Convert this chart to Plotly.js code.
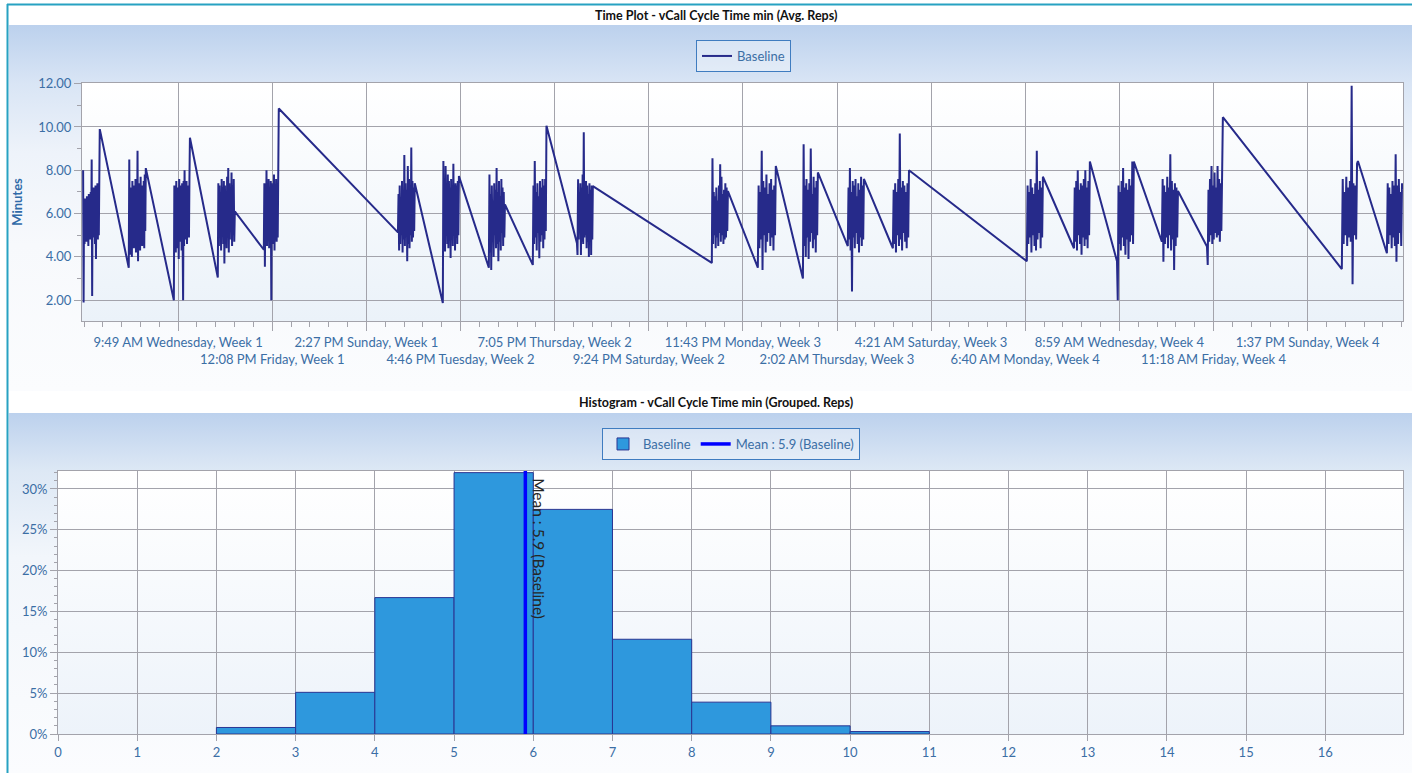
<!DOCTYPE html>
<html>
<head>
<meta charset="utf-8">
<script src="https://cdn.plot.ly/plotly-3.0.1.min.js"></script>
<style>
html,body{margin:0;padding:0;background:#ffffff;overflow:hidden;}
#chart{width:1412px;height:773px;}
</style>
</head>
<body>
<div id="chart"></div>
<script>
// ---------------- Time plot data (hours relative to 9:49 AM Wednesday, Week 1) ----------------
const tickLabels = ['9:49 AM Wednesday, Week 1','12:08 PM Friday, Week 1','2:27 PM Sunday, Week 1',
  '4:46 PM Tuesday, Week 2','7:05 PM Thursday, Week 2','9:24 PM Saturday, Week 2','11:43 PM Monday, Week 3',
  '2:02 AM Thursday, Week 3','4:21 AM Saturday, Week 3','6:40 AM Monday, Week 4','8:59 AM Wednesday, Week 4',
  '11:18 AM Friday, Week 4','1:37 PM Sunday, Week 4'];
const tickHours = [0, 50.32, 100.63, 150.95, 201.27, 251.58, 301.9, 352.22, 402.53, 452.85, 503.17, 553.48, 603.8];

// start / end hour of each working-day burst of readings
const dayStart = [-50.8, -26.4, -2.3, 21.2, 45.8, 117.5, 141.5, 166.1, 189.6, 213.2, 285.3,
  309.9, 334.0, 358.0, 382.1, 453.7, 478.9, 501.9, 525.9, 550.0, 622.1, 646.2];
const dayEnd = [-41.9, -17.3, 6.3, 30.3, 53.8, 126.5, 150.1, 174.7, 196.9, 221.7, 293.9,
  319.5, 342.0, 366.6, 390.7, 462.3, 487.4, 510.9, 534.5, 558.5, 630.7, 654.7];

// cycle time readings (minutes) for each day
const wk1Mon = [8.0,1.9,6.6,4.6,6.7,5.0,6.5,4.7,6.8,5.2,6.4,4.5,6.9,5.1,6.6,4.8,7.0,5.3,8.5,2.2,6.9,4.9,7.2,5.0,6.8,4.6,7.3,3.9,7.1,5.2,7.4,4.8,7.3,5.0,7.5,9.9];
const wk1Tue = [3.5,8.5,4.1,7.2,4.8,6.9,4.0,7.5,5.0,6.7,4.4,7.3,4.9,7.6,4.2,7.0,5.1,8.9,3.8,7.4,4.6,7.1,4.3,7.7,5.0,6.9,4.5,7.3,4.8,7.5,4.4,7.8,5.2,8.1];
const wk1Wed = [2.0,7.3,4.6,7.0,4.2,7.5,5.0,7.2,4.4,6.8,3.9,7.6,5.1,7.3,4.7,7.1,4.3,7.4,5.0,2.0,7.5,4.5,8.0,4.8,7.2,5.2,7.5,4.6,6.9,5.0,7.3,4.9,7.6,9.5];
const wk1Thu = [3.05,7.4,4.5,7.3,4.9,6.9,4.3,7.6,5.0,7.2,4.6,7.5,3.7,7.3,4.8,7.0,4.4,7.7,5.1,8.1,4.2,7.4,4.8,7.0,5.2,7.9,4.5,7.3,5.0,7.6,4.7,6.1];
const wk1Fri = [4.33,7.4,3.55,7.0,4.9,8.0,4.5,7.3,5.1,7.6,4.4,7.2,4.8,7.5,2.0,7.4,5.0,7.1,4.6,7.8,4.3,7.3,5.2,7.6,4.7,7.0,4.9,8.0,10.85];
const wk2Mon = [5.13,6.9,4.3,7.3,4.6,6.6,5.0,7.5,4.2,7.0,4.8,8.7,4.5,7.4,5.1,7.1,3.8,8.2,4.6,7.6,4.4,7.3,5.0,9.05,4.7,7.5,4.9,7.2,5.2,7.4];
const wk2Tue = [1.87,8.43,4.7,7.3,4.25,8.2,5.0,7.0,4.6,7.8,4.4,7.5,5.1,7.2,3.95,7.6,4.8,7.0,4.5,8.3,5.2,7.1,4.3,7.4,4.9,7.3,4.6,7.5,5.0,7.73];
const wk2Wed = [3.5,7.8,4.2,6.9,3.4,7.3,4.9,6.6,4.0,7.4,5.0,7.1,4.4,8.1,4.6,7.0,3.8,7.5,4.7,6.8,4.3,7.6,5.1,7.2,4.5,7.0,4.9,6.42];
const wk2Thu = [3.63,7.3,4.6,8.43,4.9,7.0,4.3,7.4,5.1,6.8,3.94,7.5,4.7,7.2,5.0,7.6,4.4,7.3,4.8,7.6,5.2,10.06];
const wk2Fri = [4.63,4.09,7.58,4.8,7.0,5.2,7.4,4.09,7.2,4.7,7.81,4.6,9.75,4.9,7.2,5.0,7.5,4.4,7.3,4.7,6.9,4.0,7.4,5.1,7.1,4.09,7.3,4.8,7.27];
const wk3Mon = [3.72,8.56,4.6,7.0,5.0,6.8,4.4,7.2,4.9,6.6,4.5,7.3,5.1,8.28,4.7,7.7,5.0,6.9,4.6,7.1,4.8,7.4,4.9,7.2,5.2,7.04];
const wk3Tue = [3.5,7.3,4.4,7.0,4.8,8.9,3.4,7.5,5.0,7.2,4.2,7.8,4.7,6.9,5.1,7.4,4.5,7.6,4.9,7.1,4.3,7.3,5.0,8.2];
const wk3Wed = [3.0,9.2,4.5,7.3,4.0,7.6,4.9,7.1,3.9,7.4,4.7,9.0,5.1,6.9,4.4,7.7,4.8,7.2,4.2,7.5,5.0,7.9];
const wk3Thu = [4.5,7.2,4.8,8.1,4.3,7.0,2.4,7.5,4.9,7.3,4.4,7.6,5.1,6.8,4.6,7.4,4.2,7.1,4.9,7.7,4.5,7.3,4.8,7.6];
const wk3Fri = [4.4,7.1,4.6,7.4,4.2,7.0,5.0,7.6,4.5,9.7,4.8,7.2,4.3,7.5,5.1,7.3,4.7,7.0,4.4,7.4,4.9,8.0];
const wk4Mon = [3.8,7.3,4.6,7.0,4.9,7.6,4.2,7.2,5.0,6.9,4.5,7.4,4.3,8.9,4.8,7.1,5.1,7.5,4.4,7.2,4.9,7.7];
const wk4Tue = [4.4,7.2,4.7,7.5,4.3,8.0,5.0,7.1,4.6,7.4,4.1,7.3,4.9,7.6,4.5,8.0,4.8,7.2,4.4,7.5,5.0,8.4];
const wk4Wed = [3.8,2.0,7.3,4.6,7.0,4.3,7.5,4.9,8.1,4.5,7.2,4.1,7.4,4.8,7.1,3.9,7.6,4.7,7.3,5.0,8.4,4.6,8.4];
const wk4Thu = [4.7,7.6,3.78,7.3,4.6,7.0,4.9,7.7,4.4,7.2,5.0,8.74,4.3,7.5,4.8,7.1,3.4,7.4,4.5,7.2,4.9,7.04];
const wk4Fri = [4.48,3.63,7.1,4.7,7.6,5.0,8.2,4.6,7.3,4.8,7.9,5.1,7.2,4.9,8.2,5.0,7.6,4.7,7.4,5.2,7.8,10.45];
const wk5Mon = [3.44,7.6,4.6,7.0,5.0,7.7,4.5,7.2,4.9,7.5,4.7,11.9,2.74,7.4,5.0,7.3,4.8,8.3,8.43];
const wk5Tue = [4.17,7.4,4.6,7.2,5.0,6.9,4.4,7.5,4.9,7.3,4.5,8.74,3.78,7.3,4.6,7.6,5.1,7.0,4.5,7.4,7.1];

// ---------------- Histogram data ----------------
const binLeft = [2, 3, 4, 5, 6, 7, 8, 9, 10];
const binPercent = [0.8, 5.1, 16.7, 32.0, 27.5, 11.6, 3.9, 1.0, 0.3];
const pctTicks = [0, 5, 10, 15, 20, 25, 30];
const meanValue = 5.9;

// ---------------- build the series ----------------
const days = [wk1Mon,wk1Tue,wk1Wed,wk1Thu,wk1Fri,wk2Mon,wk2Tue,wk2Wed,wk2Thu,wk2Fri,
  wk3Mon,wk3Tue,wk3Wed,wk3Thu,wk3Fri,wk4Mon,wk4Tue,wk4Wed,wk4Thu,wk4Fri,wk5Mon,wk5Tue];
const tx = [], ty = [];
days.forEach((vals, d) => {
  const s = dayStart[d], e = dayEnd[d], n = vals.length;
  vals.forEach((v, i) => { tx.push(s + (e - s) * i / (n - 1)); ty.push(v); });
});

const W = 1412, H = 773;
const px = v => v / W;
const py = v => 1 - v / H;

function grad(stops) {
  const s = stops.map(st => '<stop offset="' + st[0] + '" stop-color="' + st[1] + '"/>').join('');
  const svg = '<svg xmlns="http://www.w3.org/2000/svg" width="100" height="100" viewBox="0 0 100 100" preserveAspectRatio="none">' +
    '<defs><linearGradient id="g" x1="0" y1="0" x2="0" y2="1">' + s + '</linearGradient></defs>' +
    '<rect x="0" y="0" width="100" height="100" fill="url(#g)"/></svg>';
  return 'data:image/svg+xml;charset=utf-8,' + encodeURIComponent(svg);
}

const FONT = 'Lato, "Open Sans", "Noto Sans", sans-serif';
const LBL = '#3b6ea5';
const GRID = '#a3a3ab';

const histYMax = 32.2;

const traces = [
  { type: 'scatter', mode: 'lines', x: tx, y: ty, name: 'Baseline',
    line: { color: '#262a8a', width: 2 }, xaxis: 'x', yaxis: 'y', legend: 'legend' },
  { type: 'bar', x: binLeft, y: binPercent, offset: 0, width: 1, name: 'Baseline',
    marker: { color: '#2e98dd', line: { color: '#2a3592', width: 1 } },
    xaxis: 'x2', yaxis: 'y2', legend: 'legend2' },
  { type: 'scatter', mode: 'lines', x: [meanValue, meanValue], y: [0, histYMax],
    name: 'Mean : ' + meanValue.toFixed(1) + ' (Baseline)',
    line: { color: '#0000ff', width: 3.5 }, xaxis: 'x2', yaxis: 'y2', legend: 'legend2' }
];

const axisCommon = {
  showline: true, linecolor: GRID, linewidth: 1, mirror: true, zeroline: false,
  showgrid: true, gridcolor: GRID, gridwidth: 1,
  ticks: 'outside', tickcolor: GRID, tickfont: { family: FONT, size: 13, color: LBL }
};

const layout = {
  width: W, height: H,
  margin: { l: 0, r: 0, t: 0, b: 0 },
  paper_bgcolor: '#ffffff', plot_bgcolor: 'rgba(0,0,0,0)',
  font: { family: FONT, size: 13, color: LBL },
  showlegend: true,
  xaxis: Object.assign({}, axisCommon, {
    domain: [px(82), px(1403)], range: [-51.4, 654.8], anchor: 'y',
    tickmode: 'array', tickvals: tickHours,
    ticktext: tickLabels.map((t, i) => (i % 2 ? '<br>' + t : t)),
    tickangle: 0, ticklen: 9,
    minor: { tick0: 0, dtick: 10.064, ticks: 'outside', ticklen: 5, tickcolor: GRID, showgrid: false }
  }),
  yaxis: Object.assign({}, axisCommon, {
    domain: [py(321), py(83)], range: [1.04, 12.03], anchor: 'x',
    tick0: 0, dtick: 2, tickformat: '.2f', ticklen: 7,
    minor: { dtick: 1, ticks: 'outside', ticklen: 4, tickcolor: GRID, showgrid: false },
    title: { text: '<b>Minutes</b>', standoff: 12, font: { family: FONT, size: 13, color: '#2f6aa8' } }
  }),
  xaxis2: Object.assign({}, axisCommon, {
    domain: [px(58), px(1403)], range: [0, 16.98], anchor: 'y2',
    tick0: 0, dtick: 1, ticklen: 6
  }),
  yaxis2: Object.assign({}, axisCommon, {
    domain: [py(734), py(471)], range: [0, histYMax], anchor: 'x2',
    tickmode: 'array', tickvals: pctTicks, ticktext: pctTicks.map(v => v + '%'), ticklen: 7,
    minor: { tickmode: 'linear', tick0: 0, dtick: 1, ticks: 'outside', ticklen: 3, tickcolor: GRID, showgrid: false }
  }),
  legend: {
    x: px(743.5), xanchor: 'center', y: py(40), yanchor: 'top',
    bgcolor: 'rgba(255,255,255,0.35)', bordercolor: '#3f7cc0', borderwidth: 1,
    font: { family: FONT, size: 13, color: LBL }
  },
  legend2: {
    x: px(731), xanchor: 'center', y: py(428), yanchor: 'top', orientation: 'h',
    bgcolor: 'rgba(255,255,255,0.35)', bordercolor: '#3f7cc0', borderwidth: 1,
    font: { family: FONT, size: 13, color: LBL }
  },
  annotations: [
    { xref: 'paper', yref: 'paper', x: px(716), y: py(15), xanchor: 'center', yanchor: 'middle',
      text: '<b>Time Plot - vCall Cycle Time min (Avg. Reps)</b>', showarrow: false,
      font: { family: FONT, size: 12.5, color: '#111111' } },
    { xref: 'paper', yref: 'paper', x: px(716), y: py(403), xanchor: 'center', yanchor: 'middle',
      text: '<b>Histogram - vCall Cycle Time min (Grouped. Reps)</b>', showarrow: false,
      font: { family: FONT, size: 12.5, color: '#111111' } },
    { xref: 'x2', yref: 'y2 domain', x: meanValue, y: 1, xanchor: 'left', yanchor: 'top',
      xshift: 3, yshift: -5, textangle: 90, showarrow: false,
      text: 'Mean : ' + meanValue.toFixed(1) + ' (Baseline)',
      font: { family: FONT, size: 15.5, color: '#262626' } }
  ],
  shapes: [
    { type: 'line', xref: 'paper', yref: 'paper', x0: px(7.5), x1: px(7.5), y0: py(4), y1: 0,
      line: { color: '#27a2c2', width: 2 } },
    { type: 'line', xref: 'paper', yref: 'paper', x0: px(7), x1: 1, y0: py(4.5), y1: py(4.5),
      line: { color: '#27a2c2', width: 2 } }
  ],
  images: [
    { source: grad([[0, '#bcd1ed'], [0.16, '#d9e5f5'], [0.35, '#eef3fa'], [0.6, '#f7f9fc'], [1, '#fbfcfe']]),
      xref: 'paper', yref: 'paper', x: px(8.5), y: py(25), sizex: (W - 8.5) / W, sizey: (391 - 25) / H,
      xanchor: 'left', yanchor: 'top', sizing: 'stretch', layer: 'below' },
    { source: grad([[0, '#bcd1ed'], [0.16, '#dde8f5'], [0.4, '#f2f6fb'], [1, '#fbfcfe']]),
      xref: 'paper', yref: 'paper', x: px(8.5), y: py(413), sizex: (W - 8.5) / W, sizey: (H - 413) / H,
      xanchor: 'left', yanchor: 'top', sizing: 'stretch', layer: 'below' },
    { source: grad([[0, '#ffffff'], [1, '#ebf2f9']]),
      xref: 'x domain', yref: 'y domain', x: 0, y: 1, sizex: 1, sizey: 1,
      xanchor: 'left', yanchor: 'top', sizing: 'stretch', layer: 'below' },
    { source: grad([[0, '#ffffff'], [1, '#edf3fa']]),
      xref: 'x2 domain', yref: 'y2 domain', x: 0, y: 1, sizex: 1, sizey: 1,
      xanchor: 'left', yanchor: 'top', sizing: 'stretch', layer: 'below' }
  ]
};

Plotly.newPlot('chart', traces, layout, { staticPlot: true, displayModeBar: false });
</script>
</body>
</html>
